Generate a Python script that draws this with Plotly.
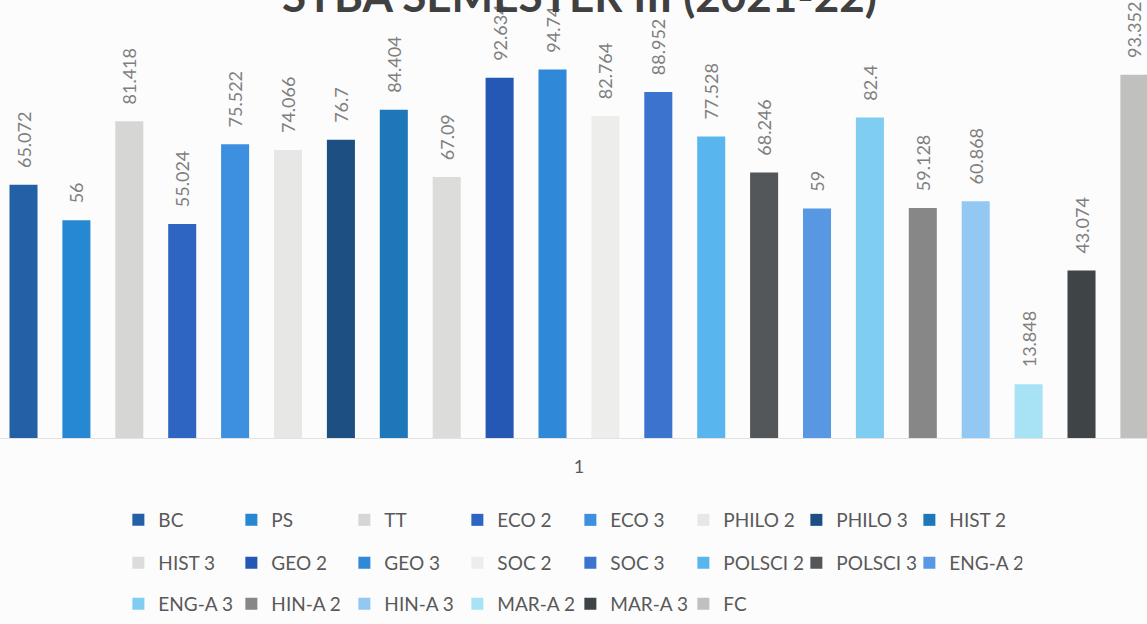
import plotly.graph_objects as go

# subjects and their scores (single category "1")
subjects = ["BC", "PS", "TT", "ECO 2", "ECO 3", "PHILO 2", "PHILO 3", "HIST 2",
            "HIST 3", "GEO 2", "GEO 3", "SOC 2", "SOC 3", "POLSCI 2", "POLSCI 3", "ENG-A 2",
            "ENG-A 3", "HIN-A 2", "HIN-A 3", "MAR-A 2", "MAR-A 3", "FC"]
scores = [65.072, 56, 81.418, 55.024, 75.522, 74.066, 76.7, 84.404,
          67.09, 92.634, 94.74, 82.764, 88.952, 77.528, 68.246, 59,
          82.4, 59.128, 60.868, 13.848, 43.074, 93.352]
category = ["1"]

colors = ["#2360a5", "#2688d2", "#d6d6d4", "#2e64c2", "#3d90e0", "#e7e7e5", "#1d4f82", "#1e77b8",
          "#dcdcda", "#2458b4", "#2f88d8", "#ededeb", "#3c73cf", "#58b5ee", "#53575a", "#5898e2",
          "#80cdf2", "#878787", "#92c8f2", "#a8e3f5", "#3f4547", "#c0c0be"]

FONT = "Lato"
GRAY = "#595959"

fig = go.Figure()

for i, (name, val) in enumerate(zip(subjects, scores)):
    legend_id = ["legend", "legend2", "legend3"][i // 8]
    fig.add_trace(go.Bar(
        x=category,
        y=[val],
        name=name,
        marker=dict(color=colors[i], line=dict(width=0)),
        text=["\u00a0\u00a0\u00a0" + f"{val:g}"],
        textposition="outside",
        textangle=-90,
        constraintext="none",
        cliponaxis=False,
        textfont=dict(family=FONT, size=18, color="#7f7f7f"),
        legend=legend_id,
    ))

legend_style = dict(
    orientation="h",
    x=0.1032,
    xanchor="left",
    yanchor="middle",
    entrywidth=68,
    entrywidthmode="pixels",
    font=dict(family=FONT, size=19, color=GRAY),
    bgcolor="rgba(0,0,0,0)",
    traceorder="normal",
)

fig.update_layout(
    width=1147,
    height=624,
    paper_bgcolor="#fcfcfc",
    plot_bgcolor="#fcfcfc",
    margin=dict(l=0, r=0, t=49, b=186),
    barmode="group",
    bargap=0,
    bargroupgap=0.47,
    showlegend=True,
    legend=dict(legend_style, y=(438 - 520) / 389),
    legend2=dict(legend_style, y=(438 - 563) / 389),
    legend3=dict(legend_style, y=(438 - 604) / 389),
    xaxis=dict(
        type="category",
        range=[-0.49747, 0.48809],
        showline=True,
        linecolor="#e2e2e2",
        linewidth=1,
        showgrid=False,
        ticks="",
        ticklabelstandoff=12,
        tickfont=dict(family=FONT, size=18, color=GRAY),
        fixedrange=True,
    ),
    yaxis=dict(
        range=[0, 100],
        visible=False,
        showgrid=False,
        zeroline=False,
    ),
    annotations=[dict(
        text="<b>SYBA SEMESTER III (2021-22)</b>",
        xref="paper", yref="paper",
        x=0.5052, y=(438 + 4.7) / 389,
        xanchor="center", yanchor="middle",
        showarrow=False,
        font=dict(family=FONT, size=44, color="#404040"),
    )],
)

# the page body gets no default margin so the figure sits at the window's corner
fig.write_html(
    "out.html",
    config={"displayModeBar": False},
    post_script="document.body.style.margin='0';document.body.style.overflow='hidden';",
)
